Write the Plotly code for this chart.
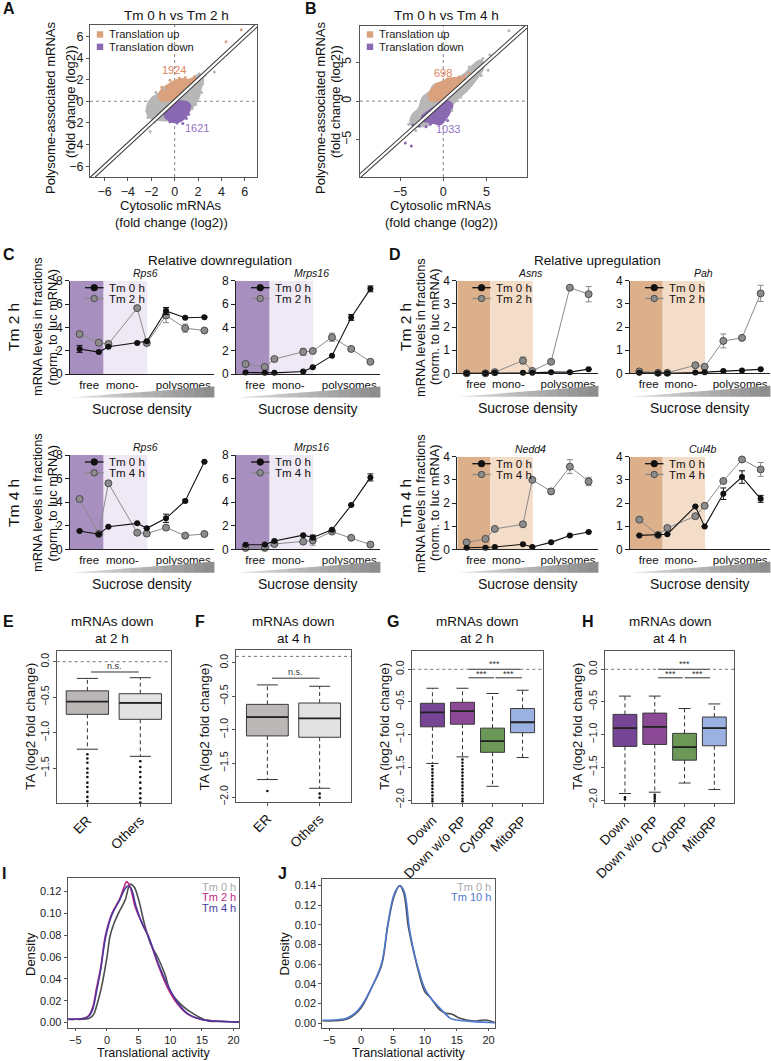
import plotly.graph_objects as go

W, H = 771, 1061
FONT = "Liberation Sans, Arial, Helvetica, sans-serif"

A_gray_outline_x = [-2.25, -2.3, -1.9, -1.4, -1.0, -0.3, 0.6, 1.4, 2.1, 2.4, 2.2, 2.0, 1.6, 1.1, 0.4, -0.4, -1.2, -1.9]
A_gray_outline_y = [-1.3, -0.4, 0.3, 0.6, 1.0, 1.4, 1.7, 2.0, 2.4, 2.1, 1.2, 0.3, -0.4, -0.9, -1.4, -1.7, -1.7, -1.6]
A_up_outline_x = [-1.2, -1.3, -1.0, -0.5, 0.0, 0.6, 1.2, 1.7, 1.5, 0.8, 0.3, 0.0, -0.3]
A_up_outline_y = [0.15, 0.6, 1.15, 1.5, 1.85, 2.0, 1.95, 2.1, 1.75, 1.05, 0.55, 0.3, 0.15]
A_down_outline_x = [-0.8, -0.5, -0.1, 0.2, 1.0, 1.3, 1.2, 0.9, 0.5, 0.0, -0.5, -0.8]
A_down_outline_y = [-1.1, -0.8, -0.4, -0.1, -0.1, -0.4, -0.9, -1.4, -1.8, -1.9, -1.7, -1.4]
A_gray_pts_x = [-2.1, -2.3, -1.7, -2.4, 2.1, 2.6, 3.4, 2.4, 2.3, 1.8, -1.6, 1.5, -0.9, 2.0]
A_gray_pts_y = [-2.8, -1.5, -1.9, -0.9, 2.55, 2.4, 2.7, 1.6, 0.8, -0.3, 0.8, -0.7, 1.2, 2.2]
A_up_pts_x = [5.7, 4.4, 1.7, 0.9, -0.4, 0.4, -1.1]
A_up_pts_y = [6.6, 5.5, 2.3, 2.2, 1.95, 2.15, 1.3]
A_down_pts_x = [0.7, 0.2, -0.4, 1.2, 1.0, -0.6]
A_down_pts_y = [-2.06, -2.0, -1.9, -1.2, -1.6, -1.3]
A_counts = {"up": ("1924", -0.1, 2.9), "down": ("1621", 1.9, -2.5)}

B_gray_outline_x = [-3.7, -3.6, -2.8, -2.3, -1.5, -1.1, 0.8, 2.3, 3.6, 4.4, 4.6, 3.8, 2.7, 1.6, 0.8, -0.4, -1.9, -3.0]
B_gray_outline_y = [-3.0, -1.9, -1.0, 0.5, 1.2, 2.0, 2.6, 3.3, 4.7, 5.2, 4.4, 2.9, 1.4, 0.3, -0.7, -2.0, -3.1, -3.2]
B_up_outline_x = [-1.5, -1.6, -1.2, -0.6, 0.2, 0.9, 1.6, 2.4, 2.3, 1.3, 0.6, 0.15, -0.4]
B_up_outline_y = [0.15, 0.9, 1.6, 2.2, 2.6, 2.9, 2.9, 3.0, 2.6, 1.6, 0.9, 0.35, 0.15]
B_down_outline_x = [-2.4, -1.6, -0.8, -0.3, 0.7, 1.0, 0.7, 0.2, -0.3, -1.0, -1.8, -2.3]
B_down_outline_y = [-2.0, -1.3, -0.7, -0.15, -0.15, -0.6, -1.4, -2.3, -2.9, -2.8, -2.6, -2.5]
B_gray_pts_x = [7.6, 5.4, 5.2, 4.6, 3.9, 3.0, -3.7, -4.0, -2.8, 2.6, 2.0, -1.9, -3.2, 4.4, 3.2, -2.3, 1.0]
B_gray_pts_y = [9.1, 6.0, 4.0, 5.5, 4.0, 4.4, -2.2, -3.0, -1.2, 1.3, 0.5, 0.5, -3.8, 3.3, 2.4, -0.6, -1.2]
B_up_pts_x = [2.5, 1.8, 0.5, -0.8, 3.0, 1.4]
B_up_pts_y = [3.3, 3.1, 2.9, 2.2, 3.6, 2.7]
B_down_pts_x = [-3.5, -4.4, -3.7, -2.8, -1.5, 0.5, -2.0]
B_down_pts_y = [-3.1, -5.4, -5.8, -3.2, -3.0, -2.5, -3.3]
B_counts = {"up": ("698", -0.05, 3.6), "down": ("1033", 0.6, -3.65)}

# ---------------- Panels C / D (polysome profiles) ----------------
fractions = [1, 3, 4, 7, 8, 10, 12, 14]
frac_tickvals = [2.0, 5.45, 11.8]
frac_ticktext = ["free", "mono-", "polysomes"]
free_span = [0, 3.5]
mono_span = [3.5, 8.05]

c2_rps6_0h = [2.15, 1.88, 2.33, 2.65, 2.8, 5.4, 4.82, 4.87]
c2_rps6_0h_err = [0.3, None, None, None, None, 0.3, None, None]
c2_rps6_2h = [3.42, 2.68, 2.58, 5.65, 2.65, 5.02, 3.93, 3.73]
c2_rps6_2h_err = [None, None, 0.15, 0.2, 0.15, 0.62, 0.35, None]
c2_mrps16_0h = [0.13, 0.1, 0.1, 0.22, 0.57, 1.57, 4.85, 7.3]
c2_mrps16_0h_err = [None, None, None, None, None, None, 0.25, 0.25]
c2_mrps16_2h = [0.85, 0.6, 1.28, 1.9, 1.97, 3.15, 2.15, 1.05]
c2_mrps16_2h_err = [None, None, None, 0.3, 0.15, 0.35, None, None]
c4_rps6_0h = [1.55, 1.28, 1.92, 2.2, 1.78, 2.63, 4.1, 7.43]
c4_rps6_0h_err = [None, None, None, None, None, 0.35, 0.1, None]
c4_rps6_4h = [4.27, 1.3, 5.6, 1.41, 1.33, 1.84, 1.16, 1.3]
c4_rps6_4h_err = [None, None, 0.15, None, None, None, None, None]
c4_mrps16_0h = [0.38, 0.4, 0.7, 1.2, 1.0, 1.65, 3.75, 6.1]
c4_mrps16_0h_err = [None, None, None, None, 0.2, None, None, 0.3]
c4_mrps16_4h = [0.12, 0.12, 0.45, 0.65, 0.75, 1.5, 0.98, 0.4]
c4_mrps16_4h_err = [None, None, None, None, 0.4, None, None, None]

d2_asns_0h = [0.0, 0.0, 0.02, 0.02, 0.02, 0.05, 0.05, 0.18]
d2_asns_0h_err = [None] * 8
d2_asns_2h = [0.0, 0.0, 0.05, 0.55, 0.1, 0.5, 3.7, 3.42]
d2_asns_2h_err = [None, None, None, 0.15, None, None, None, 0.33]
d2_pah_0h = [0.02, 0.0, 0.0, 0.03, 0.05, 0.1, 0.12, 0.17]
d2_pah_0h_err = [None] * 8
d2_pah_2h = [0.08, 0.02, 0.02, 0.35, 0.28, 1.4, 1.53, 3.45]
d2_pah_2h_err = [None, None, None, None, None, 0.3, None, 0.35]
d4_nedd4_0h = [0.07, 0.07, 0.1, 0.22, 0.1, 0.3, 0.6, 0.75]
d4_nedd4_0h_err = [None] * 8
d4_nedd4_4h = [0.3, 0.45, 0.88, 1.08, 3.0, 2.5, 3.57, 2.93]
d4_nedd4_4h_err = [None, None, None, None, None, 0.12, 0.3, 0.18]
d4_cul4b_0h = [0.6, 0.62, 0.65, 1.85, 0.98, 2.4, 3.12, 2.18]
d4_cul4b_0h_err = [None, None, None, None, None, 0.25, 0.27, 0.15]
d4_cul4b_4h = [1.28, 0.62, 0.92, 1.43, 1.88, 2.95, 3.88, 3.45]
d4_cul4b_4h_err = [None, None, None, None, None, None, None, 0.3]

# ---------------- Panels E-H (boxplots, stats) ----------------
E_cats = ["ER", "Others"]
E_q1 = [-0.74, -0.81]; E_med = [-0.56, -0.58]; E_q3 = [-0.41, -0.45]
E_lo = [-1.23, -1.33]; E_hi = [-0.235, -0.225]
E_out = [[-1.3, -1.36, -1.42, -1.5, -1.56, -1.62, -1.7, -1.76, -1.83, -1.9, -1.96],
         [-1.4, -1.48, -1.55, -1.62, -1.7, -1.78, -1.85, -1.92, -1.98]]
F_cats = ["ER", "Others"]
F_q1 = [-1.09, -1.11]; F_med = [-0.81, -0.83]; F_q3 = [-0.62, -0.6]
F_lo = [-1.74, -1.87]; F_hi = [-0.33, -0.35]
F_out = [[-1.91], [-1.95, -2.01]]
G_cats = ["Down", "Down w/o RP", "CytoRP", "MitoRP"]
G_q1 = [-0.88, -0.84, -1.27, -0.97]; G_med = [-0.66, -0.64, -1.1, -0.81]; G_q3 = [-0.52, -0.505, -0.9, -0.6]
G_lo = [-1.44, -1.34, -1.79, -1.35]; G_hi = [-0.29, -0.29, -0.37, -0.32]
G_out = [[-1.48, -1.53, -1.58, -1.63, -1.68, -1.73, -1.78, -1.83, -1.88, -1.93, -1.98, -2.02],
         [-1.38, -1.43, -1.48, -1.53, -1.58, -1.63, -1.68, -1.73, -1.78, -1.83, -1.88, -1.93, -1.98, -2.02], [], []]
H_cats = ["Down", "Down w/o RP", "CytoRP", "MitoRP"]
H_q1 = [-1.18, -1.15, -1.39, -1.17]; H_med = [-0.9, -0.88, -1.19, -0.9]; H_q3 = [-0.69, -0.67, -0.98, -0.73]
H_lo = [-1.9, -1.88, -1.74, -1.84]; H_hi = [-0.41, -0.41, -0.6, -0.53]
H_out = [[-1.96, -1.99], [-1.92, -1.95, -1.98, -2.02], [], []]
box_gray = ["#bcb7b7", "#e2e2e2"]
box_colors = ["#774595", "#8c4a96", "#6b9757", "#9ab1e1"]

# ---------------- Panels I / J (density curves) ----------------
I_0h_x = [-6.2, -5, -4, -3, -2.6, -2.1, -1.5, -0.9, 0, 0.5, 1.2, 1.8, 2.9, 3.65, 4.3, 5, 6, 7, 8, 9.2, 10, 11.7, 13.8, 16, 18, 20.9]
I_0h_y = [0.003, 0.003, 0.003, 0.0035, 0.0045, 0.0075, 0.018, 0.0315, 0.06, 0.0795, 0.092, 0.1, 0.1125, 0.1266, 0.124, 0.1125, 0.0885, 0.0705, 0.06, 0.0435, 0.0285, 0.0165, 0.0075, 0.0015, 0.001, 0.0005]
I_2h_x = [-6.2, -5, -4, -3.2, -2.75, -2.2, -1.65, -1, -0.25, 0.8, 2, 2.7, 3.1, 3.6, 4.5, 5.5, 6.5, 8.1, 9.6, 11.2, 12.8, 14.8, 17, 20.9]
I_2h_y = [0.003, 0.003, 0.0035, 0.005, 0.0075, 0.015, 0.0315, 0.05, 0.0795, 0.1, 0.113, 0.124, 0.129, 0.125, 0.105, 0.0915, 0.0795, 0.0525, 0.0315, 0.0165, 0.0075, 0.003, 0.0015, 0.0005]
I_4h_x = [-6.2, -5, -4, -3.2, -2.7, -2.2, -1.6, -1, -0.2, 0.8, 2, 2.8, 3.3, 3.8, 4.6, 5.6, 6.6, 8.1, 9.6, 11.2, 12.8, 14.8, 17, 20.9]
I_4h_y = [0.003, 0.003, 0.0035, 0.0045, 0.007, 0.013, 0.03, 0.048, 0.0785, 0.099, 0.112, 0.122, 0.125, 0.123, 0.106, 0.09, 0.078, 0.054, 0.034, 0.018, 0.008, 0.003, 0.0015, 0.0005]
J_0h_x = [-6.1, -4.3, -3, -2.1, -1, 0, 1.6, 3.2, 4.2, 5.2, 6.05, 6.7, 7.4, 8.4, 10, 10.8, 12.4, 13.4, 14.2, 15.5, 17.6, 19.5, 21]
J_0h_y = [0.0025, 0.0025, 0.003, 0.0045, 0.009, 0.0157, 0.0357, 0.059, 0.1, 0.13, 0.14, 0.132, 0.098, 0.068, 0.032, 0.0267, 0.0133, 0.01, 0.0095, 0.005, 0.0023, 0.0033, 0.0007]
J_10h_x = [-6.1, -4.3, -3, -2.1, -1, 0, 1.6, 3.2, 4.2, 5.2, 6.1, 6.8, 7.6, 8.7, 10, 10.8, 12.4, 14, 15, 17.6, 21]
J_10h_y = [0.003, 0.0033, 0.004, 0.0057, 0.01, 0.0173, 0.0357, 0.0607, 0.1017, 0.1317, 0.14, 0.133, 0.095, 0.0617, 0.035, 0.0267, 0.015, 0.005, 0.0033, 0.0017, 0.0005]

# ======================================================================
def fx(p):
    return p / W


def fy(p):
    return 1 - p / H


fig = go.Figure()
layout = dict(template="none", width=W, height=H,
              margin=dict(l=0, r=0, t=0, b=0, pad=0, autoexpand=False), paper_bgcolor="white",
              plot_bgcolor="rgba(0,0,0,0)", showlegend=False, boxmode="overlay",
              font=dict(family=FONT, color="#111", size=12))
shapes = []
anns = []


def set_axes(i, l, r, t, b, xr, yr, xkw, ykw):
    xn = "xaxis" if i == 1 else f"xaxis{i}"
    yn = "yaxis" if i == 1 else f"yaxis{i}"
    xa = "x" if i == 1 else f"x{i}"
    ya = "y" if i == 1 else f"y{i}"
    layout[xn] = dict(domain=[fx(l), fx(r)], anchor=ya, range=xr, automargin=False,
                      ticklabeloverflow="allow", **xkw)
    layout[yn] = dict(domain=[fy(b), fy(t)], anchor=xa, range=yr, automargin=False,
                      ticklabeloverflow="allow", **ykw)
    return xa, ya


def boxax(**kw):
    d = dict(showline=True, linecolor="#555", linewidth=1, mirror=True, ticks="outside", ticklen=3,
             tickwidth=1, tickcolor="#555", showgrid=False, zeroline=False,
             tickfont=dict(size=12, color="#222", family=FONT))
    d.update(kw)
    return d


def lineax(**kw):
    d = dict(showline=True, linecolor="#222", linewidth=1, mirror=False, ticks="outside", ticklen=4,
             tickwidth=1, tickcolor="#222", showgrid=False, zeroline=False,
             tickfont=dict(size=12, color="#111", family=FONT))
    d.update(kw)
    return d


def txt(x, y, s, size=13, color="#111", angle=0, xanchor="center", yanchor="middle",
        xref="paper", yref="paper"):
    if xref == "paper":
        x = fx(x)
    if yref == "paper":
        y = fy(y)
    anns.append(dict(x=x, y=y, xref=xref, yref=yref, text=s, showarrow=False, textangle=angle,
                     xanchor=xanchor, yanchor=yanchor,
                     font=dict(size=size, color=color, family=FONT)))


# ---------------------- A & B ----------------------
ORANGE = "#d9a17d"
PURPLE = "#8a68b2"
GRAYPT = "#b7b7b7"


def scatter_panel(xa, ya, gx, gy, ux, uy, dx, dy, gpx, gpy, upx, upy, dpx, dpy, counts, cnt_size):
    for ox, oy, col in [(gx, gy, GRAYPT), (ux, uy, ORANGE), (dx, dy, PURPLE)]:
        fig.add_trace(go.Scatter(x=ox + [ox[0]], y=oy + [oy[0]], mode="lines", fill="toself",
                                 fillcolor=col, line=dict(color=col, width=3, shape="spline"),
                                 xaxis=xa, yaxis=ya, hoverinfo="skip"))
    for px, py, col in [(gpx, gpy, GRAYPT), (upx, upy, ORANGE), (dpx, dpy, PURPLE)]:
        fig.add_trace(go.Scatter(x=px, y=py, mode="markers", marker=dict(size=3, color=col),
                                 xaxis=xa, yaxis=ya, hoverinfo="skip"))
    diag = [-30, 30]
    fig.add_trace(go.Scatter(x=diag, y=diag, mode="lines", line=dict(color="#333", width=4.2),
                             xaxis=xa, yaxis=ya, hoverinfo="skip"))
    fig.add_trace(go.Scatter(x=diag, y=diag, mode="lines", line=dict(color="white", width=2.2),
                             xaxis=xa, yaxis=ya, hoverinfo="skip"))
    shapes.append(dict(type="line", xref=f"{xa} domain", yref=ya, x0=0, x1=1, y0=0, y1=0,
                       line=dict(color="#888", width=1, dash="dot"), layer="below"))
    shapes.append(dict(type="line", xref=xa, yref=f"{ya} domain", x0=0, x1=0, y0=0, y1=1,
                       line=dict(color="#888", width=1, dash="dot"), layer="below"))
    t, x, y = counts["up"]
    txt(x, y, t, size=cnt_size, color="#e0825a", xref=xa, yref=ya)
    t, x, y = counts["down"]
    txt(x, y, t, size=cnt_size, color="#9272c4", xref=xa, yref=ya)


xa, ya = set_axes(1, 90, 257, 25, 177, [-7.25, 7.05], [-7.0, 7.05],
                  boxax(tickvals=[-6, -4, -2, 0, 2, 4, 6], tickfont=dict(size=12.5, color="#222", family=FONT)),
                  boxax(tickvals=[-6, -4, -2, 0, 2, 4, 6], tickfont=dict(size=12.5, color="#222", family=FONT)))
scatter_panel(xa, ya, A_gray_outline_x, A_gray_outline_y, A_up_outline_x, A_up_outline_y,
              A_down_outline_x, A_down_outline_y, A_gray_pts_x, A_gray_pts_y, A_up_pts_x, A_up_pts_y,
              A_down_pts_x, A_down_pts_y, A_counts, 11)
xa, ya = set_axes(2, 360, 527, 26, 177, [-9.65, 9.7], [-9.8, 9.7],
                  boxax(tickvals=[-5, 0, 5], tickfont=dict(size=12.5, color="#222", family=FONT)),
                  boxax(tickvals=[-5, 0, 5], tickangle=-90, tickfont=dict(size=12.5, color="#222", family=FONT)))
scatter_panel(xa, ya, B_gray_outline_x, B_gray_outline_y, B_up_outline_x, B_up_outline_y,
              B_down_outline_x, B_down_outline_y, B_gray_pts_x, B_gray_pts_y, B_up_pts_x, B_up_pts_y,
              B_down_pts_x, B_down_pts_y, B_counts, 11)

for (sqx, yq, title_x, ytl1, ytl2, xtl) in [(100, 34.5, 176, 51, 70, 171), (370, 34.5, 446, 321, 335, 441)]:
    for k, (col, lab) in enumerate([(ORANGE, "Translation up"), (PURPLE, "Translation down")]):
        yy = yq + k * 12.3
        shapes.append(dict(type="rect", xref="paper", yref="paper", x0=fx(sqx - 3.2), x1=fx(sqx + 3.2),
                           y0=fy(yy + 3.2), y1=fy(yy - 3.2), fillcolor=col, line=dict(width=0)))
        txt(sqx + 7, yy, lab, size=11.2, color="#222", xanchor="left")
    txt(title_x, 15, "Tm 0 h vs Tm 2 h" if sqx == 100 else "Tm 0 h vs Tm 4 h", size=13.5)
    txt(ytl1, 108, "Polysome-associated mRNAs", size=13, angle=-90)
    txt(ytl2, 102, "(fold change (log2))", size=13, angle=-90)
    txt(xtl, 205, "Cytosolic mRNAs", size=13)
    txt(xtl, 222, "(fold change (log2))", size=13)

# ---------------------- C & D ----------------------
C_FREE, C_MONO = "#a78fc0", "#efe8f5"
D_FREE, D_MONO = "#ddb08c", "#f3dcc8"
WEDGE_STEPS = 14


def wedge(l, r, yb, h):
    # sucrose-density ramp drawn as small trapezoids getting darker to the right
    for s in range(WEDGE_STEPS):
        f0, f1 = s / WEDGE_STEPS, (s + 1) / WEDGE_STEPS
        xa0, xa1 = l + (r - l) * f0, l + (r - l) * f1
        g = int(225 - (225 - 138) * (f0 + f1) / 2)
        col = f"rgb({g},{g},{g})"
        path = (f"M {fx(xa0)},{fy(yb)} L {fx(xa1 + 0.4)},{fy(yb)} L {fx(xa1 + 0.4)},{fy(yb - h * f1)} "
                f"L {fx(xa0)},{fy(yb - h * f0)} Z")
        shapes.append(dict(type="path", xref="paper", yref="paper", path=path, fillcolor=col,
                           line=dict(width=0)))


def profile_panel(i, l, r, t, b, ymax, ytick, v0, e0, v1, e1, gene, lab1, free_c, mono_c):
    xa, ya = set_axes(i, l, r, t, b, [0, 15], [0, ymax],
                      lineax(tickvals=frac_tickvals, ticktext=frac_ticktext, ticks="",
                             tickfont=dict(size=11.5, color="#111", family=FONT)),
                      lineax(tickvals=ytick))
    shapes.append(dict(type="rect", xref=xa, yref=ya, x0=free_span[0], x1=free_span[1], y0=0, y1=ymax,
                       fillcolor=free_c, line=dict(width=0), layer="below"))
    shapes.append(dict(type="rect", xref=xa, yref=ya, x0=mono_span[0], x1=mono_span[1], y0=0, y1=ymax,
                       fillcolor=mono_c, line=dict(width=0), layer="below"))
    fig.add_trace(go.Scatter(x=fractions, y=v1, mode="lines+markers", cliponaxis=False,
                             line=dict(color="#8a8a8a", width=1),
                             marker=dict(size=7, color="#8c8c8c", line=dict(color="#4a4a4a", width=1)),
                             error_y=dict(type="data", array=e1, color="#8a8a8a", thickness=1, width=3),
                             xaxis=xa, yaxis=ya))
    fig.add_trace(go.Scatter(x=fractions, y=v0, mode="lines+markers", cliponaxis=False,
                             line=dict(color="#111", width=1.1),
                             marker=dict(size=6, color="#111"),
                             error_y=dict(type="data", array=e0, color="#111", thickness=1, width=3),
                             xaxis=xa, yaxis=ya))
    txt((l + r) / 2 + 3, t - 7.5, f"<i>{gene}</i>", size=10.5)
    for k, (lc, fc, ec, lab) in enumerate([("#111", "#111", "#111", "Tm 0 h"),
                                            ("#8a8a8a", "#8c8c8c", "#4a4a4a", lab1)]):
        yy = t + 7 + k * 10.8
        x0g, x1g = l + 15, l + 33.5
        xm = (x0g + x1g) / 2
        shapes.append(dict(type="line", xref="paper", yref="paper", x0=fx(x0g), x1=fx(x1g),
                           y0=fy(yy), y1=fy(yy), line=dict(color=lc, width=1.3)))
        shapes.append(dict(type="circle", xref="paper", yref="paper", x0=fx(xm - 3.2), x1=fx(xm + 3.2),
                           y0=fy(yy + 3.2), y1=fy(yy - 3.2), fillcolor=fc, line=dict(color=ec, width=1)))
        txt(x1g + 3, yy, lab, size=11.5, xanchor="left")
    wedge(l, r, b + 23.5, 11)
    txt((l + r) / 2, b + 34.5, "Sucrose density", size=14)


profile_panel(3, 70, 214, 280.7, 374, 8, [0, 2, 4, 6, 8], c2_rps6_0h, c2_rps6_0h_err, c2_rps6_2h, c2_rps6_2h_err,
              "Rps6", "Tm 2 h", C_FREE, C_MONO)
profile_panel(4, 236, 380, 280.7, 374, 8, [0, 2, 4, 6, 8], c2_mrps16_0h, c2_mrps16_0h_err, c2_mrps16_2h,
              c2_mrps16_2h_err, "Mrps16", "Tm 2 h", C_FREE, C_MONO)
profile_panel(5, 70, 214, 455, 549.3, 8, [0, 2, 4, 6, 8], c4_rps6_0h, c4_rps6_0h_err, c4_rps6_4h, c4_rps6_4h_err,
              "Rps6", "Tm 4 h", C_FREE, C_MONO)
profile_panel(6, 236, 380, 455, 549.3, 8, [0, 2, 4, 6, 8], c4_mrps16_0h, c4_mrps16_0h_err, c4_mrps16_4h,
              c4_mrps16_4h_err, "Mrps16", "Tm 4 h", C_FREE, C_MONO)
profile_panel(7, 457.3, 598, 280.7, 373.3, 4, [0, 1, 2, 3, 4], d2_asns_0h, d2_asns_0h_err, d2_asns_2h,
              d2_asns_2h_err, "Asns", "Tm 2 h", D_FREE, D_MONO)
profile_panel(8, 630, 770, 280.7, 373.3, 4, [0, 1, 2, 3, 4], d2_pah_0h, d2_pah_0h_err, d2_pah_2h,
              d2_pah_2h_err, "Pah", "Tm 2 h", D_FREE, D_MONO)
profile_panel(9, 457.3, 598, 456.7, 549.3, 4, [0, 1, 2, 3, 4], d4_nedd4_0h, d4_nedd4_0h_err, d4_nedd4_4h,
              d4_nedd4_4h_err, "Nedd4", "Tm 4 h", D_FREE, D_MONO)
profile_panel(10, 630, 770, 456.7, 549.3, 4, [0, 1, 2, 3, 4], d4_cul4b_0h, d4_cul4b_0h_err, d4_cul4b_4h,
              d4_cul4b_4h_err, "Cul4b", "Tm 4 h", D_FREE, D_MONO)

txt(220, 260, "Relative downregulation", size=13.5)
txt(597, 260, "Relative upregulation", size=13.5)
for (xt, x1, x2, yc, lab) in [(13, 37, 51.5, 327, "Tm 2 h"), (13, 37, 51.5, 503, "Tm 4 h"),
                              (405, 420, 434, 327, "Tm 2 h"), (405, 420, 434, 503, "Tm 4 h")]:
    txt(xt, yc, lab, size=15.5, angle=-90)
    txt(x1, yc, "mRNA levels in fractions", size=12.8, angle=-90)
    txt(x2, yc, "(norm. to luc mRNA)", size=12.8, angle=-90)

# ---------------------- E-H ----------------------
BOXW = 0.8
CAP = 0.2


def box_panel(i, l, r, t, b, xr, yr, cats, q1, med, q3, lo, hi, out, colors, zero_y):
    n = len(cats)
    pos = list(range(1, n + 1))
    xa, ya = set_axes(i, l, r, t, b, xr, yr,
                      boxax(tickvals=pos, ticktext=cats, tickangle=-45,
                            tickfont=dict(size=13.5, color="#111", family=FONT)),
                      boxax(tickvals=[0, -0.5, -1.0, -1.5, -2.0],
                            ticktext=["0.0", "\u22120.5", "\u22121.0", "\u22121.5", "\u22122.0"],
                            tickangle=-90, tickfont=dict(size=10.5, color="#222", family=FONT)))
    shapes.append(dict(type="line", xref=f"{xa} domain", yref=ya, x0=0, x1=1, y0=zero_y, y1=zero_y,
                       line=dict(color="#777", width=1, dash="dot")))
    for k, p in enumerate(pos):
        for a, bb in [(q3[k], hi[k]), (q1[k], lo[k])]:
            fig.add_trace(go.Scatter(x=[p, p], y=[a, bb], mode="lines",
                                     line=dict(color="#333", width=1, dash="4px,3px"),
                                     xaxis=xa, yaxis=ya, hoverinfo="skip"))
            fig.add_trace(go.Scatter(x=[p - CAP, p + CAP], y=[bb, bb], mode="lines",
                                     line=dict(color="#333", width=1), xaxis=xa, yaxis=ya, hoverinfo="skip"))
        fig.add_trace(go.Box(x=[p], q1=[q1[k]], median=[med[k]], q3=[q3[k]], lowerfence=[q1[k]],
                             upperfence=[q3[k]], width=BOXW, fillcolor=colors[k], whiskerwidth=0,
                             line=dict(color="#3a3a3a", width=1), boxpoints=False, xaxis=xa, yaxis=ya))
        fig.add_trace(go.Scatter(x=[p - BOXW / 2, p + BOXW / 2], y=[med[k], med[k]], mode="lines",
                                 line=dict(color="#222", width=1.8), xaxis=xa, yaxis=ya, hoverinfo="skip"))
        if out[k]:
            fig.add_trace(go.Scatter(x=[p] * len(out[k]), y=out[k], mode="markers",
                                     marker=dict(size=2.6, color="#111"), xaxis=xa, yaxis=ya,
                                     cliponaxis=True, hoverinfo="skip"))
    return xa, ya


def sig(xa, ya, x0, x1, y, label, ty):
    fig.add_trace(go.Scatter(x=[x0, x1], y=[y, y], mode="lines", line=dict(color="#333", width=1),
                             xaxis=xa, yaxis=ya, hoverinfo="skip"))
    txt((x0 + x1) / 2, ty, label, size=9, color="#333", xref=xa, yref=ya)


xa, ya = box_panel(11, 56.7, 171, 651, 803.3, [0.42, 2.58], [-1.99, 0.15], E_cats, E_q1, E_med, E_q3,
                   E_lo, E_hi, E_out, box_gray, 0.0)
sig(xa, ya, 1.07, 1.97, -0.145, "n.s.", -0.065)
xa, ya = box_panel(12, 236, 351, 650, 801.7, [0.4, 2.6], [-2.07, 0.19], F_cats, F_q1, F_med, F_q3,
                   F_lo, F_hi, F_out, box_gray, 0.095)
sig(xa, ya, 1.09, 2.0, -0.23, "n.s.", -0.135)
xa, ya = box_panel(13, 412.3, 542.7, 651, 803.3, [0.33, 4.67], [-2.05, 0.28], G_cats, G_q1, G_med, G_q3,
                   G_lo, G_hi, G_out, box_colors, 0.0)
sig(xa, ya, 2.2, 3.93, 0.0, "***", 0.075)
sig(xa, ya, 2.2, 3.05, -0.13, "***", -0.065)
sig(xa, ya, 3.1, 3.98, -0.13, "***", -0.065)
xa, ya = box_panel(14, 605, 734.3, 651, 803.3, [0.33, 4.67], [-2.05, 0.28], H_cats, H_q1, H_med, H_q3,
                   H_lo, H_hi, H_out, box_colors, 0.0)
sig(xa, ya, 2.11, 3.86, 0.0, "***", 0.075)
sig(xa, ya, 2.11, 2.94, -0.13, "***", -0.065)
sig(xa, ya, 3.0, 3.86, -0.13, "***", -0.065)

for (cx, ylab_x, hours) in [(112, 30, "2"), (293.5, 203.5, "4"), (477, 384, "2"), (670, 577, "4")]:
    txt(cx, 621.7, "mRNAs down", size=13.5)
    txt(cx, 638.5, f"at {hours} h", size=13.5)
    txt(ylab_x, 727, "TA (log2 fold change)", size=13.5, angle=-90)

# ---------------------- I & J ----------------------
xa, ya = set_axes(15, 67.7, 239.3, 878, 1027.5, [-6.2, 20.9], [-0.0045, 0.1323],
                  boxax(tickvals=[-5, 0, 5, 10, 15, 20], ticklen=2,
                        tickfont=dict(size=11, color="#222", family=FONT)),
                  boxax(tickvals=[0, 0.02, 0.04, 0.06, 0.08, 0.10, 0.12], tickformat=".2f",
                        tickfont=dict(size=11, color="#222", family=FONT)))
for xs, ys, col in [(I_0h_x, I_0h_y, "#4d4d4d"), (I_2h_x, I_2h_y, "#c3267f"), (I_4h_x, I_4h_y, "#4a3a9e")]:
    fig.add_trace(go.Scatter(x=xs, y=ys, mode="lines", line=dict(color=col, width=1.6, shape="spline"),
                             xaxis=xa, yaxis=ya, hoverinfo="skip"))
txt(237.5, 886.7, "Tm 0 h", size=11, color="#aaaaaa", xanchor="right")
txt(237.5, 897.3, "Tm 2 h", size=11, color="#c3267f", xanchor="right")
txt(237.5, 907.9, "Tm 4 h", size=11, color="#4a3a9e", xanchor="right")
txt(30, 954, "Density", size=13, angle=-90)
txt(153.5, 1052.5, "Translational activity", size=12.5)

xa, ya = set_axes(16, 322.3, 495, 879.3, 1027.5, [-6.1, 21.0], [-0.0043, 0.1464],
                  boxax(tickvals=[-5, 0, 5, 10, 15, 20], ticklen=2,
                        tickfont=dict(size=11, color="#222", family=FONT)),
                  boxax(tickvals=[0, 0.02, 0.04, 0.06, 0.08, 0.10, 0.12, 0.14], tickformat=".2f",
                        tickfont=dict(size=11, color="#222", family=FONT)))
for xs, ys, col in [(J_0h_x, J_0h_y, "#4d4d4d"), (J_10h_x, J_10h_y, "#4f79cf")]:
    fig.add_trace(go.Scatter(x=xs, y=ys, mode="lines", line=dict(color=col, width=1.6, shape="spline"),
                             xaxis=xa, yaxis=ya, hoverinfo="skip"))
txt(493, 886.7, "Tm 0 h", size=11, color="#aaaaaa", xanchor="right")
txt(493, 897.3, "Tm 10 h", size=11, color="#4f79cf", xanchor="right")
txt(283.5, 954, "Density", size=13, angle=-90)
txt(408.5, 1052.5, "Translational activity", size=12.5)

# ---------------------- panel letters ----------------------
for (lx, ly, L) in [(1, 8.5, "A"), (303, 8.5, "B"), (1, 254.5, "C"), (387, 254.5, "D"), (1, 621, "E"),
                    (193, 621, "F"), (385, 621, "G"), (580, 621, "H"), (0, 873, "I"), (276, 873, "J")]:
    txt(lx, ly, f"<b>{L}</b>", size=16, xanchor="left")

layout["shapes"] = shapes
layout["annotations"] = anns
fig.update_layout(**layout)
fig.write_html("out.html", config={"displayModeBar": False, "staticPlot": True},
               post_script="document.body.style.margin='0';document.body.style.padding='0';"
                           "document.documentElement.style.overflow='hidden';")
